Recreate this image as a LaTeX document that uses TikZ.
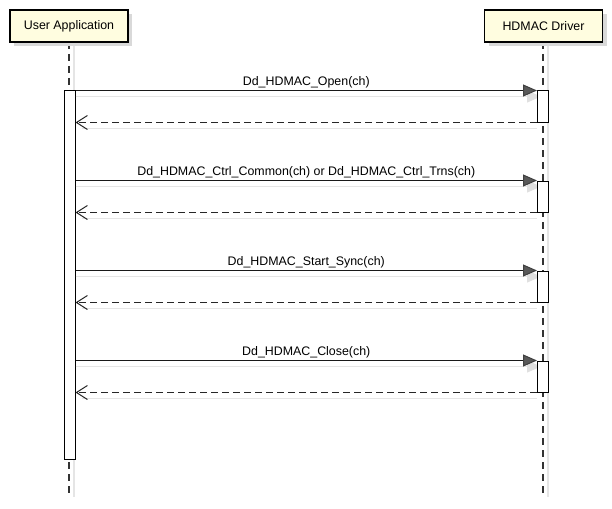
\documentclass[tikz,border=0pt]{standalone}
\usepackage{fontspec}
\setmainfont{Liberation Sans}
\usetikzlibrary{positioning,arrows.meta,shadows}

\begin{document}
\begin{tikzpicture}[x=1pt,y=-1pt,
    font=\fontsize{12.4}{14}\selectfont,
    actor/.style={draw, line width=1.8pt, fill=yellow!12, minimum width=118pt,
        minimum height=32pt, inner sep=0pt,
        drop shadow={shadow xshift=4pt, shadow yshift=-4pt, fill=black!15, opacity=1}},
    lifeline/.style={draw=black!80, line width=1.1pt, dash pattern=on 7pt off 5pt},
    bar/.style={draw, fill=white, line width=1pt, minimum width=11pt, inner sep=0pt},
    call/.style={draw=black!90, line width=1pt,
        -{Triangle[length=14pt,width=12pt,fill=black!65,color=black!75]}},
    reply/.style={draw=black!85, line width=1pt, dash pattern=on 7pt off 4pt,
        -{Straight Barb[length=11pt,width=14pt,line width=1pt]}},
    shade/.style={draw=black!10, line width=1.2pt},
    shadecall/.style={shade, -{Triangle[length=14pt,width=12pt,fill=black!12,color=black!12]}},
    msg/.style={above, inner sep=2pt, midway}]
\useasboundingbox (0,0) rectangle (612,508);

%Lifelines
\coordinate (uend) at (69,497);
\coordinate (dend) at (543,497);
\draw[shade] (74,43) -- (74,497);
\draw[shade] (548,43) -- (548,497);
\draw[lifeline] (69,42) -- (uend);
\draw[lifeline] (543,42) -- (dend);

%Nodes
\node[actor]  (UA)  at (69,26)   {User Application};
\node[actor]  (HD)  at (543.5,26) {HDMAC Driver};
\node[bar, minimum height=368pt] (UB) at (69.5,275) {};
\node[bar, minimum height=31pt]  (D1) at (543,106.5) {};
\node[bar, minimum height=31pt]  (D2) at (543,196.5) {};
\node[bar, minimum height=31pt]  (D3) at (543,286.5) {};
\node[bar, minimum height=31pt]  (D4) at (543,376.5) {};

%Shadows of the messages
\draw[shadecall] ([yshift=-6pt]D1.north west -| UB.east) -- ([xshift=4pt,yshift=-6pt]D1.north west);
\draw[shadecall] ([yshift=-6pt]D2.north west -| UB.east) -- ([xshift=4pt,yshift=-6pt]D2.north west);
\draw[shadecall] ([yshift=-6pt]D3.north west -| UB.east) -- ([xshift=4pt,yshift=-6pt]D3.north west);
\draw[shadecall] ([yshift=-6pt]D4.north west -| UB.east) -- ([xshift=4pt,yshift=-6pt]D4.north west);
\draw[shade] ([xshift=6pt,yshift=-6pt]D1.south west -| UB.east) -- ([yshift=-6pt]D1.south west);
\draw[shade] ([xshift=6pt,yshift=-6pt]D2.south west -| UB.east) -- ([yshift=-6pt]D2.south west);
\draw[shade] ([xshift=6pt,yshift=-6pt]D3.south west -| UB.east) -- ([yshift=-6pt]D3.south west);
\draw[shade] ([xshift=6pt,yshift=-6pt]D4.south west -| UB.east) -- ([yshift=-6pt]D4.south west);
\node[bar, minimum height=31pt]  at (D1) {};
\node[bar, minimum height=31pt]  at (D2) {};
\node[bar, minimum height=31pt]  at (D3) {};
\node[bar, minimum height=31pt]  at (D4) {};

%Calls
\draw[call]  (D1.north west -| UB.east) -- (D1.north west)
    node[msg]{Dd\_HDMAC\_Open(ch)};
\draw[reply] (D1.south west) -- (D1.south west -| UB.east);
\draw[call]  (D2.north west -| UB.east) -- (D2.north west)
    node[msg]{Dd\_HDMAC\_Ctrl\_Common(ch) or Dd\_HDMAC\_Ctrl\_Trns(ch)};
\draw[reply] (D2.south west) -- (D2.south west -| UB.east);
\draw[call]  (D3.north west -| UB.east) -- (D3.north west)
    node[msg]{Dd\_HDMAC\_Start\_Sync(ch)};
\draw[reply] (D3.south west) -- (D3.south west -| UB.east);
\draw[call]  (D4.north west -| UB.east) -- (D4.north west)
    node[msg]{Dd\_HDMAC\_Close(ch)};
\draw[reply] (D4.south west) -- (D4.south west -| UB.east);
\end{tikzpicture}
\end{document}
